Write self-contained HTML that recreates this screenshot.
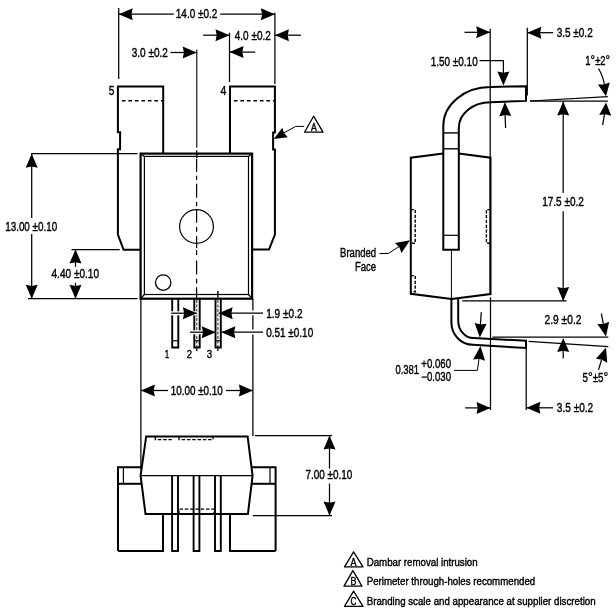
<!DOCTYPE html>
<html><head><meta charset="utf-8"><style>
html,body{margin:0;padding:0;background:#fff;width:616px;height:615px;overflow:hidden}
svg{display:block;will-change:transform}
text{font-family:"Liberation Sans",sans-serif;fill:#000;stroke:#000;stroke-width:0.4px}
</style></head><body>
<svg width="616" height="615" viewBox="0 0 616 615" stroke="#000" stroke-linejoin="miter" stroke-linecap="butt">
<path d="M117.9,235 L117.9,149.2 L120.1,149.2 L120.1,132.2 L117.9,132.2 L117.9,86.4 L163.2,86.4 L163.2,153" fill="none" stroke-width="2" />
<path d="M117.9,234.7 L123.6,249.8 L140.6,249.8" fill="none" stroke-width="2" />
<path d="M230,154 L230,86.4 L274.9,86.4 L274.9,132.5 L273.1,132.5 L273.1,149.4 L274.9,149.4 L274.9,234.5 L269,249.6 L252.2,249.6" fill="none" stroke-width="2" />
<line x1="121.9" y1="100.7" x2="163" y2="100.7" stroke-width="1.5" stroke-dasharray="3.6 2.9"/>
<line x1="233.9" y1="100.7" x2="275" y2="100.7" stroke-width="1.5" stroke-dasharray="3.6 2.9"/>
<rect x="140.6" y="153.6" width="111.5" height="145.1" fill="none" stroke-width="2.2"/>
<rect x="144.4" y="156.4" width="104.1" height="138.1" fill="none" stroke-width="1.2"/>
<line x1="140.6" y1="153.6" x2="144.4" y2="156.4" stroke-width="1.25" />
<line x1="252.1" y1="153.6" x2="248.5" y2="156.4" stroke-width="1.25" />
<line x1="140.6" y1="298.7" x2="144.4" y2="294.5" stroke-width="1.25" />
<line x1="252.1" y1="298.7" x2="248.5" y2="294.5" stroke-width="1.25" />
<circle cx="196.5" cy="226.5" r="16.9" fill="none" stroke-width="1.2"/>
<circle cx="163.2" cy="282.6" r="7.7" fill="none" stroke-width="1.3"/>
<line x1="196.8" y1="49.6" x2="196.8" y2="147.8" stroke-width="1.1" />
<line x1="196.8" y1="150.2" x2="196.8" y2="158" stroke-width="1.25" />
<line x1="196.6" y1="158.7" x2="196.6" y2="172.1" stroke-width="1.2" />
<line x1="196.6" y1="175.7" x2="196.6" y2="180" stroke-width="1.2" />
<line x1="196.6" y1="183.7" x2="196.6" y2="197.7" stroke-width="1.2" />
<line x1="196.6" y1="202" x2="196.6" y2="206.2" stroke-width="1.2" />
<line x1="196.6" y1="209.3" x2="196.6" y2="222.7" stroke-width="1.2" />
<line x1="196.6" y1="227" x2="196.6" y2="231.7" stroke-width="1.2" />
<line x1="196.6" y1="236" x2="196.6" y2="248.2" stroke-width="1.2" />
<line x1="196.6" y1="250" x2="196.6" y2="254.9" stroke-width="1.2" />
<line x1="196.6" y1="260.4" x2="196.6" y2="274.4" stroke-width="1.2" />
<line x1="196.6" y1="278.7" x2="196.6" y2="283.5" stroke-width="1.2" />
<line x1="196.6" y1="287.2" x2="196.6" y2="300" stroke-width="1.2" />
<path d="M172.2,299 L172.2,347.5 L178.3,347.5 L178.3,299" fill="none" stroke-width="1.9" />
<line x1="172.2" y1="340.8" x2="178.3" y2="340.8" stroke-width="1.2" />
<path d="M194.3,299 L194.3,347.5 L199.7,347.5 L199.7,299" fill="none" stroke-width="1.9" />
<line x1="194.3" y1="340.8" x2="199.7" y2="340.8" stroke-width="1.2" />
<path d="M215.5,299 L215.5,347.5 L220.8,347.5 L220.8,299" fill="none" stroke-width="1.9" />
<line x1="215.5" y1="340.8" x2="220.8" y2="340.8" stroke-width="1.2" />
<line x1="196.8" y1="300" x2="196.8" y2="351" stroke-width="1" stroke-dasharray="3 1.5" stroke="#222"/>
<line x1="196.8" y1="347" x2="196.8" y2="351" stroke-width="1" />
<line x1="217.9" y1="291" x2="217.9" y2="351" stroke-width="1" stroke-dasharray="3 1.5" stroke="#222"/>
<line x1="217.9" y1="347" x2="217.9" y2="351" stroke-width="1" />
<line x1="217.9" y1="291" x2="217.9" y2="297" stroke-width="1" />
<rect x="170" y="311.3" width="27.5" height="4" fill="#fff" stroke="none"/>
<rect x="188" y="330.3" width="13.5" height="4" fill="#fff" stroke="none"/>
<rect x="250" y="310.3" width="6" height="5" fill="#fff" stroke="none"/>
<rect x="250" y="329.6" width="6" height="5" fill="#fff" stroke="none"/>
<text x="111.5" y="94.9" font-size="12" text-anchor="middle" textLength="5.6" lengthAdjust="spacingAndGlyphs" >5</text>
<text x="223.4" y="94.9" font-size="12" text-anchor="middle" textLength="5.8" lengthAdjust="spacingAndGlyphs" >4</text>
<text x="166.9" y="357.9" font-size="11" text-anchor="middle" textLength="4.5" lengthAdjust="spacingAndGlyphs" >1</text>
<text x="189.5" y="357.9" font-size="11" text-anchor="middle" textLength="5.3" lengthAdjust="spacingAndGlyphs" >2</text>
<text x="209.4" y="357.9" font-size="11" text-anchor="middle" textLength="5.4" lengthAdjust="spacingAndGlyphs" >3</text>
<line x1="118.7" y1="8" x2="118.7" y2="79" stroke-width="1.25" />
<line x1="274.9" y1="12.7" x2="274.9" y2="84" stroke-width="1.25" />
<line x1="118.7" y1="14.2" x2="173.8" y2="14.2" stroke-width="1.25" />
<line x1="220.2" y1="14.2" x2="274.9" y2="14.2" stroke-width="1.25" />
<polygon points="118.70,14.20 132.70,8.20 131.50,14.20 132.70,20.20" stroke="none" fill="#000"/>
<polygon points="274.90,14.20 260.90,20.20 262.10,14.20 260.90,8.20" stroke="none" fill="#000"/>
<text x="196.6" y="17.7" font-size="12.0" text-anchor="middle" textLength="41.6" lengthAdjust="spacingAndGlyphs" >14.0 ±0.2</text>
<line x1="229.5" y1="32.7" x2="229.5" y2="82" stroke-width="1.25" />
<line x1="203.2" y1="35.2" x2="229.5" y2="35.2" stroke-width="1.25" />
<polygon points="229.50,35.20 215.50,41.20 216.70,35.20 215.50,29.20" stroke="none" fill="#000"/>
<line x1="274.9" y1="35.2" x2="301" y2="35.2" stroke-width="1.25" />
<polygon points="274.90,35.20 288.90,29.20 287.70,35.20 288.90,41.20" stroke="none" fill="#000"/>
<text x="252.8" y="39.8" font-size="12.0" text-anchor="middle" textLength="36" lengthAdjust="spacingAndGlyphs" >4.0 ±0.2</text>
<line x1="170.4" y1="52.5" x2="196.7" y2="52.5" stroke-width="1.25" />
<polygon points="196.70,52.50 182.70,58.50 183.90,52.50 182.70,46.50" stroke="none" fill="#000"/>
<line x1="229.5" y1="52.1" x2="255.3" y2="52.1" stroke-width="1.25" />
<polygon points="229.50,52.10 243.50,46.10 242.30,52.10 243.50,58.10" stroke="none" fill="#000"/>
<text x="149.8" y="57" font-size="12.0" text-anchor="middle" textLength="36.2" lengthAdjust="spacingAndGlyphs" >3.0 ±0.2</text>
<line x1="31" y1="153.7" x2="137.5" y2="153.7" stroke-width="1.25" />
<line x1="28" y1="298.7" x2="137.5" y2="298.7" stroke-width="1.25" />
<line x1="31.7" y1="153.7" x2="31.7" y2="218" stroke-width="1.25" />
<line x1="31.7" y1="234" x2="31.7" y2="298.7" stroke-width="1.25" />
<polygon points="31.70,153.70 37.70,167.70 31.70,166.50 25.70,167.70" stroke="none" fill="#000"/>
<polygon points="31.70,298.70 25.70,284.70 31.70,285.90 37.70,284.70" stroke="none" fill="#000"/>
<text x="31.2" y="230.8" font-size="12.0" text-anchor="middle" textLength="52" lengthAdjust="spacingAndGlyphs" >13.00 ±0.10</text>
<line x1="71.5" y1="249.5" x2="119.7" y2="249.5" stroke-width="1.25" />
<line x1="75.5" y1="249.5" x2="75.5" y2="266.8" stroke-width="1.25" />
<line x1="75.5" y1="282.8" x2="75.5" y2="298.7" stroke-width="1.25" />
<polygon points="75.50,249.40 81.50,263.40 75.50,262.20 69.50,263.40" stroke="none" fill="#000"/>
<polygon points="75.50,298.70 69.50,284.70 75.50,285.90 81.50,284.70" stroke="none" fill="#000"/>
<text x="75.3" y="277.8" font-size="12.0" text-anchor="middle" textLength="47.6" lengthAdjust="spacingAndGlyphs" >4.40 ±0.10</text>
<line x1="171.3" y1="313.2" x2="196.9" y2="313.2" stroke-width="1.25" />
<polygon points="196.90,313.20 182.90,319.20 184.10,313.20 182.90,307.20" stroke="none" fill="#000"/>
<line x1="218.6" y1="313.2" x2="263" y2="313.2" stroke-width="1.25" />
<polygon points="218.60,313.20 232.60,307.20 231.40,313.20 232.60,319.20" stroke="none" fill="#000"/>
<line x1="190" y1="332.2" x2="215.7" y2="332.2" stroke-width="1.25" />
<polygon points="215.70,332.20 201.70,338.20 202.90,332.20 201.70,326.20" stroke="none" fill="#000"/>
<line x1="221.3" y1="332.2" x2="263" y2="332.2" stroke-width="1.25" />
<polygon points="221.30,332.20 235.30,326.20 234.10,332.20 235.30,338.20" stroke="none" fill="#000"/>
<text x="266.2" y="317.8" font-size="12.0" text-anchor="start" textLength="36.4" lengthAdjust="spacingAndGlyphs" >1.9 ±0.2</text>
<text x="266.2" y="336.6" font-size="12.0" text-anchor="start" textLength="47" lengthAdjust="spacingAndGlyphs" >0.51 ±0.10</text>
<line x1="140.9" y1="298.7" x2="140.9" y2="470" stroke-width="1.25" />
<line x1="252.9" y1="298.7" x2="252.9" y2="310.4" stroke-width="1.25" />
<line x1="252.9" y1="315.3" x2="252.9" y2="329.6" stroke-width="1.25" />
<line x1="252.9" y1="334.4" x2="252.9" y2="436" stroke-width="1.25" />
<line x1="140.9" y1="390.5" x2="168" y2="390.5" stroke-width="1.25" />
<line x1="226" y1="390.5" x2="252.9" y2="390.5" stroke-width="1.25" />
<polygon points="140.90,390.50 154.90,384.50 153.70,390.50 154.90,396.50" stroke="none" fill="#000"/>
<polygon points="252.90,390.50 238.90,396.50 240.10,390.50 238.90,384.50" stroke="none" fill="#000"/>
<text x="196.8" y="394.8" font-size="12.0" text-anchor="middle" textLength="52" lengthAdjust="spacingAndGlyphs" >10.00 ±0.10</text>
<polygon points="273.80,139.00 282.33,127.75 284.03,133.12 287.81,137.28" stroke="none" fill="#000"/>
<path d="M280,135 L295.7,126.4 L304.2,126.4" fill="none" stroke-width="1" />
<polygon points="313.6,116.2 304.5,132.2 323,132.2" fill="none" stroke-width="1.3" stroke-linejoin="round"/>
<text x="313.9" y="130.8" font-size="10.3" text-anchor="middle" textLength="5.8" lengthAdjust="spacingAndGlyphs" >A</text>
<path d="M118,551 L118,467.2 L141.2,467.2" fill="none" stroke-width="2" />
<path d="M118,483.8 L141.6,483.8" fill="none" stroke-width="2" />
<line x1="123.4" y1="467.2" x2="123.4" y2="483.8" stroke-width="1.2" />
<path d="M146.2,436.4 L247.6,436.4 L252.6,475.7 L247.9,514.1 L145.5,514.1 L140.6,475.7 Z" fill="none" stroke-width="2" />
<line x1="141.5" y1="475.7" x2="252" y2="475.7" stroke-width="1.2" />
<path d="M118,551 L163,551 L163,514.1" fill="none" stroke-width="2" />
<path d="M275.6,551 L230,551 L230,514.1" fill="none" stroke-width="2" />
<path d="M252,467.2 L275.6,467.2 L275.6,551" fill="none" stroke-width="2" />
<path d="M251.6,483.8 L275.6,483.8" fill="none" stroke-width="2" />
<line x1="270" y1="467.2" x2="270" y2="483.8" stroke-width="1.2" />
<path d="M172.1,475.7 L172.1,551 L178,551 L178,475.7" fill="none" stroke-width="1.9" />
<path d="M193.6,475.7 L193.6,551 L199.4,551 L199.4,475.7" fill="none" stroke-width="1.9" />
<path d="M215,475.7 L215,551 L220.8,551 L220.8,475.7" fill="none" stroke-width="1.9" />
<path d="M179,514 L179,509.2 L214,509.2 L214,514" fill="none" stroke-width="1.2" stroke-dasharray="3.5 1.8"/>
<path d="M155.3,437 L155.3,439.7 L171.2,439.7 L171.2,437" fill="none" stroke-width="1.3" stroke-dasharray="3.5 1.8"/>
<path d="M179,437 L179,439.7 L213,439.7 L213,437" fill="none" stroke-width="1.3" stroke-dasharray="3.5 1.8"/>
<line x1="255" y1="435.6" x2="332" y2="435.6" stroke-width="1.25" />
<line x1="253" y1="515.5" x2="332" y2="515.5" stroke-width="1.25" />
<line x1="329.5" y1="435.6" x2="329.5" y2="468.6" stroke-width="1.25" />
<line x1="329.5" y1="483.6" x2="329.5" y2="515.5" stroke-width="1.25" />
<polygon points="329.50,435.60 335.50,449.60 329.50,448.40 323.50,449.60" stroke="none" fill="#000"/>
<polygon points="329.50,515.50 323.50,501.50 329.50,502.70 335.50,501.50" stroke="none" fill="#000"/>
<text x="328.9" y="478.8" font-size="12.0" text-anchor="middle" textLength="46.8" lengthAdjust="spacingAndGlyphs" >7.00 ±0.10</text>
<path d="M443.3,249.8 L443.3,126 A47.1,39 0 0 1 490.4,87 L526,86.2 L526,100.9 L490.4,102.3 A31.6,25.5 0 0 0 458.8,127.8 L458.8,249.8 Z" fill="none" stroke-width="2" />
<line x1="443.3" y1="132.9" x2="458.8" y2="132.9" stroke-width="1.4" />
<line x1="443.3" y1="148.8" x2="458.8" y2="148.8" stroke-width="1.4" />
<line x1="443.3" y1="235.3" x2="458.8" y2="235.3" stroke-width="1.2" />
<line x1="451.4" y1="250.7" x2="451.4" y2="298" stroke-width="1" />
<path d="M443.3,153.6 L410.8,157.7 L410.8,293.8 L451.5,298.9 L490.5,294 L490.5,157.7 L458.8,153.6" fill="none" stroke-width="2" />
<path d="M410.7,209.6 L415.2,209.6 L415.2,243.2 L410.7,243.2" fill="none" stroke-width="1.4" stroke-dasharray="3.2 1.6"/>
<path d="M410.7,275.6 L415.2,275.6 L415.2,291.8 L410.7,291.8" fill="none" stroke-width="1.4" stroke-dasharray="3.2 1.6"/>
<path d="M490.5,209.6 L486.4,209.6 L486.4,243.2 L490.5,243.2" fill="none" stroke-width="1.4" stroke-dasharray="3.2 1.6"/>
<path d="M451.4,299 L451.4,322.5 A21.5,22.3 0 0 0 472.9,344.8 L526,348 L526,340.7 L473.5,338.1 A15.3,17.7 0 0 1 458.2,320.4 L458.2,299" fill="none" stroke-width="2" />
<line x1="490.2" y1="28.8" x2="490.2" y2="294" stroke-width="1.25" />
<line x1="490.5" y1="297.3" x2="490.5" y2="410" stroke-width="1.25" />
<line x1="527.3" y1="27.8" x2="527.3" y2="95.6" stroke-width="1.25" />
<line x1="464.5" y1="32.3" x2="490.2" y2="32.3" stroke-width="1.25" />
<polygon points="490.20,32.30 476.20,38.30 477.40,32.30 476.20,26.30" stroke="none" fill="#000"/>
<line x1="527.3" y1="32.7" x2="553.2" y2="32.7" stroke-width="1.25" />
<polygon points="527.30,32.70 541.30,26.70 540.10,32.70 541.30,38.70" stroke="none" fill="#000"/>
<text x="574.7" y="37.3" font-size="12.0" text-anchor="middle" textLength="36" lengthAdjust="spacingAndGlyphs" >3.5 ±0.2</text>
<text x="454.2" y="66.2" font-size="12.0" text-anchor="middle" textLength="47" lengthAdjust="spacingAndGlyphs" >1.50 ±0.10</text>
<path d="M479.5,60.6 L503.4,60.6 L503.4,73" fill="none" stroke-width="1.25" />
<polygon points="503.40,85.60 497.40,71.60 503.40,72.80 509.40,71.60" stroke="none" fill="#000"/>
<line x1="505.6" y1="128" x2="504.9" y2="110" stroke-width="1.25" />
<polygon points="504.90,102.10 511.28,115.93 505.25,114.90 499.28,116.26" stroke="none" fill="#000"/>
<line x1="530" y1="101" x2="607.8" y2="101" stroke-width="1.25" />
<line x1="530" y1="101" x2="607.8" y2="96.7" stroke-width="1.25" />
<text x="597.7" y="65.3" font-size="12.0" text-anchor="middle" textLength="24.7" lengthAdjust="spacingAndGlyphs" >1<tspan font-size="14.5">°</tspan>±2<tspan font-size="14.5">°</tspan></text>
<path d="M598.5,68.5 Q603.5,77 604.6,86" fill="none" stroke-width="1.25" />
<polygon points="606.00,96.20 597.91,84.39 604.03,84.57 609.74,82.38" stroke="none" fill="#000"/>
<line x1="602.6" y1="125.1" x2="605" y2="112" stroke-width="1.25" />
<polygon points="606.00,102.50 611.22,115.83 605.30,114.28 599.24,115.12" stroke="none" fill="#000"/>
<line x1="563.2" y1="101.5" x2="563.2" y2="193.1" stroke-width="1.25" />
<line x1="563.2" y1="211.2" x2="563.2" y2="301" stroke-width="1.25" />
<polygon points="563.20,101.50 569.20,115.50 563.20,114.30 557.20,115.50" stroke="none" fill="#000"/>
<polygon points="563.20,301.00 557.20,287.00 563.20,288.20 569.20,287.00" stroke="none" fill="#000"/>
<line x1="462.2" y1="300.8" x2="566.6" y2="300.8" stroke-width="1.25" />
<text x="563" y="206.4" font-size="12.0" text-anchor="middle" textLength="41.6" lengthAdjust="spacingAndGlyphs" >17.5 ±0.2</text>
<line x1="492.4" y1="337" x2="608.3" y2="337" stroke-width="1.25" />
<line x1="528.6" y1="341.4" x2="608.3" y2="346.7" stroke-width="1.25" />
<polygon points="606.00,336.60 597.36,324.06 603.48,324.05 609.13,321.69" stroke="none" fill="#000"/>
<polygon points="563.20,338.00 569.20,352.00 563.20,350.80 557.20,352.00" stroke="none" fill="#000"/>
<line x1="563.2" y1="345" x2="563.2" y2="358.5" stroke-width="1.25" />
<line x1="601.4" y1="313.7" x2="603.5" y2="325" stroke-width="1.25" />
<text x="563" y="323.9" font-size="12.0" text-anchor="middle" textLength="36.8" lengthAdjust="spacingAndGlyphs" >2.9 ±0.2</text>
<polygon points="606.00,347.50 607.24,362.68 601.94,359.64 595.87,358.87" stroke="none" fill="#000"/>
<line x1="598.5" y1="369.9" x2="601.5" y2="360" stroke-width="1.25" />
<text x="595.4" y="381.6" font-size="12.0" text-anchor="middle" textLength="25.7" lengthAdjust="spacingAndGlyphs" >5<tspan font-size="14.5">°</tspan>±5<tspan font-size="14.5">°</tspan></text>
<line x1="526.2" y1="345" x2="526.2" y2="410" stroke-width="1.25" />
<line x1="465.2" y1="407.9" x2="490.5" y2="407.9" stroke-width="1.25" />
<polygon points="490.50,407.90 476.50,413.90 477.70,407.90 476.50,401.90" stroke="none" fill="#000"/>
<line x1="526.4" y1="407.8" x2="553" y2="407.8" stroke-width="1.25" />
<polygon points="526.40,407.80 540.40,401.80 539.20,407.80 540.40,413.80" stroke="none" fill="#000"/>
<text x="575" y="411.6" font-size="12.0" text-anchor="middle" textLength="36.3" lengthAdjust="spacingAndGlyphs" >3.5 ±0.2</text>
<line x1="481.3" y1="312.1" x2="480.3" y2="326" stroke-width="1.25" />
<polygon points="479.80,337.40 474.64,323.07 480.56,324.62 486.62,323.78" stroke="none" fill="#000"/>
<polygon points="480.50,346.10 485.07,360.63 479.22,358.84 473.13,359.43" stroke="none" fill="#000"/>
<path d="M479.5,355 L477.4,370.4 L454,370.4" fill="none" stroke-width="1" />
<text x="407.2" y="374.2" font-size="12.0" text-anchor="middle" textLength="23.6" lengthAdjust="spacingAndGlyphs" >0.381</text>
<text x="436.2" y="368.2" font-size="12.0" text-anchor="middle" textLength="29.7" lengthAdjust="spacingAndGlyphs" >+0.060</text>
<text x="436.2" y="381.2" font-size="12.0" text-anchor="middle" textLength="29.7" lengthAdjust="spacingAndGlyphs" >−0.030</text>
<text x="358.1" y="256.6" font-size="12.0" text-anchor="middle" textLength="36.1" lengthAdjust="spacingAndGlyphs" >Branded</text>
<text x="365.6" y="270.6" font-size="12.0" text-anchor="middle" textLength="21.1" lengthAdjust="spacingAndGlyphs" >Face</text>
<path d="M379.5,253.5 L388.3,253.5 L400,246" fill="none" stroke-width="1" />
<polygon points="410.00,240.30 401.53,252.96 399.27,247.28 394.99,242.90" stroke="none" fill="#000"/>
<polygon points="353.6,551.8 344.5,566.9 363,566.9" fill="none" stroke-width="1.3" stroke-linejoin="round"/>
<text x="353.5" y="565.6" font-size="10.5" text-anchor="middle" textLength="6.0" lengthAdjust="spacingAndGlyphs" >A</text>
<polygon points="352.9,570.7 344,586.1 362,586.1" fill="none" stroke-width="1.3" stroke-linejoin="round"/>
<text x="353.4" y="584.8" font-size="10.5" text-anchor="middle" textLength="6.0" lengthAdjust="spacingAndGlyphs" >B</text>
<polygon points="353.6,591.1 344.5,606.4 363,606.4" fill="none" stroke-width="1.3" stroke-linejoin="round"/>
<text x="353.4" y="604.9" font-size="10.5" text-anchor="middle" textLength="6.0" lengthAdjust="spacingAndGlyphs" >C</text>
<text x="366.7" y="565.9" font-size="11" text-anchor="start" textLength="110.9" lengthAdjust="spacingAndGlyphs" >Dambar removal intrusion</text>
<text x="366.7" y="584.9" font-size="11" text-anchor="start" textLength="168.5" lengthAdjust="spacingAndGlyphs" >Perimeter through-holes recommended</text>
<text x="366.7" y="604.9" font-size="11" text-anchor="start" textLength="228.9" lengthAdjust="spacingAndGlyphs" >Branding scale and appearance at supplier discretion</text>
</svg>
</body></html>
